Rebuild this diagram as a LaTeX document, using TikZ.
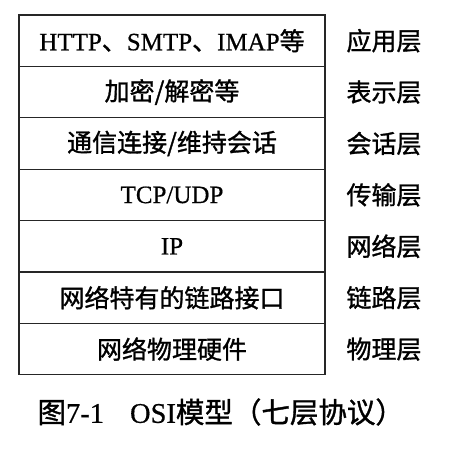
\documentclass[tikz,border=0pt]{standalone}
\usepackage{fontspec}
\setmainfont[FakeBold=0.6]{Liberation Serif}
\newfontfamily\cjk[FakeBold=1.2]{Noto Sans CJK SC}
\newcommand{\zh}[1]{{\cjk #1}}
\begin{document}
\begin{tikzpicture}[x=1pt,y=-1pt,
  layerbox/.style={draw=black!85,line width=1.3pt,minimum width=306pt,minimum height=51.4pt,inner sep=0pt,font=\fontsize{25}{27}\selectfont},
  layername/.style={font=\fontsize{25}{27}\selectfont\cjk,anchor=center},
  captiontext/.style={font=\fontsize{28.5}{31}\selectfont,anchor=west}]
\useasboundingbox (0,0) rectangle (458,452);
% protocol stack, top to bottom
\node[layerbox] (app)  at (172,40.7)  {HTTP\zh{、}SMTP\zh{、}IMAP\zh{等}};
\node[layerbox] (pres) at (172,92.1)  {\zh{加密/解密等}};
\node[layerbox] (sess) at (172,143.5) {\zh{通信连接/维持会话}};
\node[layerbox] (tran) at (172,194.9) {TCP/UDP};
\node[layerbox] (netw) at (172,246.3) {IP};
\node[layerbox] (link) at (172,297.7) {\zh{网络特有的链路接口}};
\node[layerbox] (phys) at (172,349.1) {\zh{网络物理硬件}};
% layer names
\node[layername] (lapp)  at (384,40.7)  {应用层};
\node[layername] (lpres) at (384,92.1)  {表示层};
\node[layername] (lsess) at (384,143.5) {会话层};
\node[layername] (ltran) at (384,194.9) {传输层};
\node[layername] (lnetw) at (384,246.3) {网络层};
\node[layername] (llink) at (384,297.7) {链路层};
\node[layername] (lphys) at (384,349.1) {物理层};
\node[captiontext] (cap) at (34,412) {\zh{图}7-1\hspace{26pt}OSI\zh{模型（七层协议）}};
\end{tikzpicture}
\end{document}
